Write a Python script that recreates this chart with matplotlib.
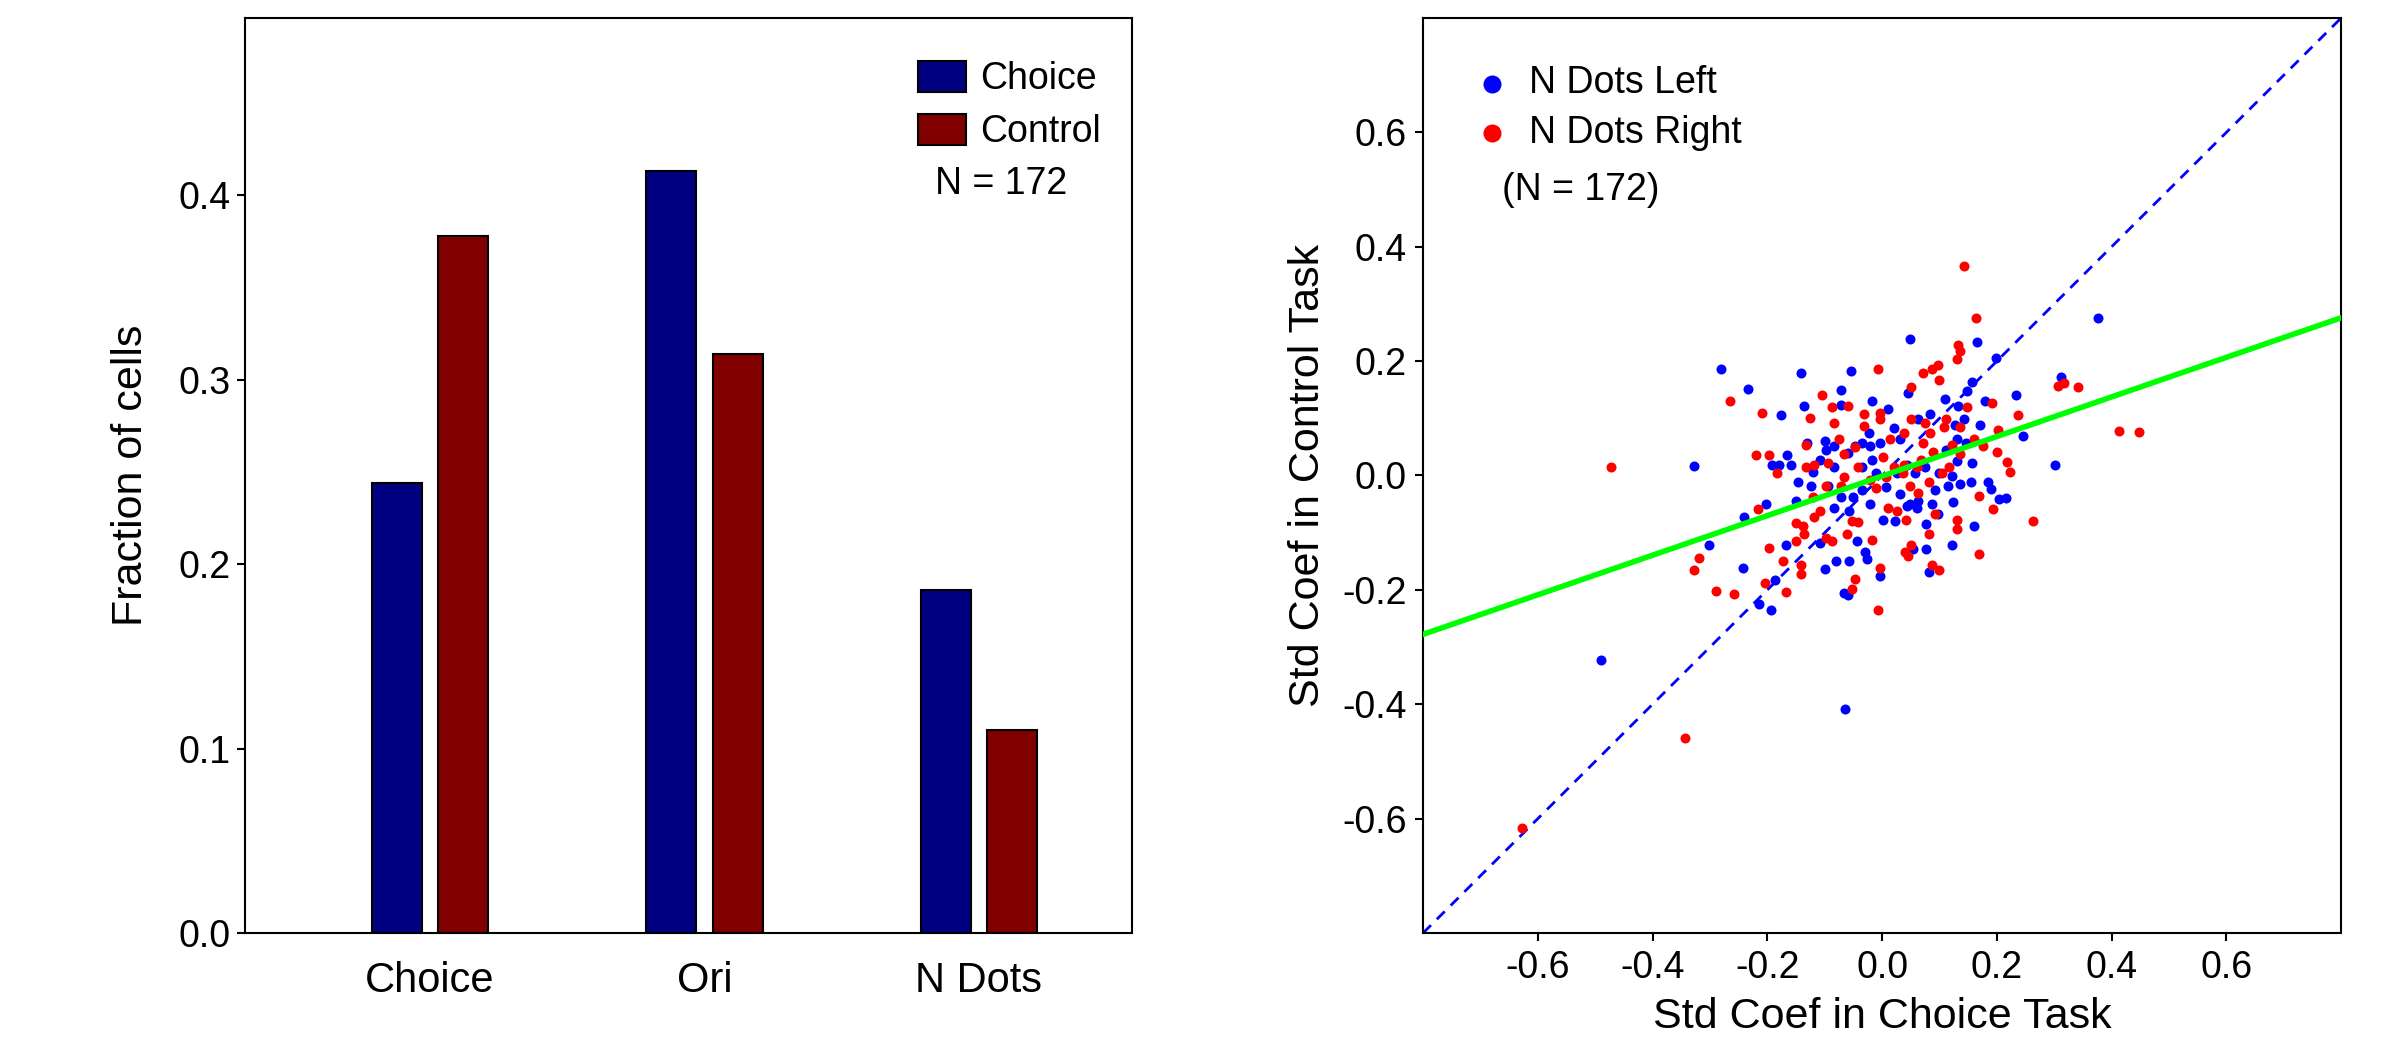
import numpy as np
import matplotlib.pyplot as plt

plt.rcParams['font.family'] = ['Liberation Sans', 'DejaVu Sans']

# Bar chart data
categories = ['Choice', 'Ori', 'N Dots']
frac_choice = [0.244, 0.413, 0.186]
frac_control = [0.378, 0.314, 0.110]
n_cells = 172

# Scatter data (std coef in choice task, std coef in control task)
left_x = [0.377, -0.490, -0.064, -0.327, -0.280, -0.234, -0.141, -0.055, 0.048, 0.166,
          0.199, 0.234, 0.245, 0.301, 0.311, -0.176, -0.136, -0.072, -0.072, -0.018,
          0.011, 0.045, 0.062, 0.083, 0.109, 0.133, 0.148, 0.157, 0.179, 0.171,
          0.142, 0.127, -0.241, -0.202, -0.302, -0.243, -0.187, -0.214, -0.194, -0.168,
          -0.150, -0.146, -0.192, -0.180, -0.166, -0.158, -0.131, -0.121, -0.099, -0.097,
          -0.084, -0.084, -0.109, -0.099, -0.081, -0.057, -0.067, -0.060, -0.044, -0.029,
          -0.026, -0.004, 0.001, 0.022, 0.044, 0.060, 0.077, 0.077, 0.053, 0.082,
          0.121, 0.124, 0.160, 0.154, 0.136, 0.121, 0.114, 0.093, 0.099, 0.130,
          0.157, 0.185, 0.190, 0.203, 0.215, -0.084, -0.060, -0.048, -0.035, -0.021,
          -0.004, -0.035, -0.017, -0.011, 0.007, 0.026, 0.032, 0.020, -0.023, -0.035,
          -0.050, -0.021, -0.057, -0.072, 0.032, 0.048, 0.062, 0.087, 0.097, 0.111,
          0.130, 0.146, 0.075, 0.057, 0.044, -0.108, -0.124, -0.094]
left_y = [0.276, -0.323, -0.408, 0.017, 0.187, 0.151, 0.179, 0.183, 0.239, 0.233,
          0.205, 0.141, 0.069, 0.019, 0.173, 0.105, 0.122, 0.149, 0.124, 0.130,
          0.117, 0.144, 0.098, 0.107, 0.134, 0.122, 0.148, 0.163, 0.131, 0.089,
          0.098, 0.089, -0.073, -0.050, -0.121, -0.162, -0.182, -0.224, -0.236, -0.121,
          -0.045, -0.011, 0.018, 0.018, 0.036, 0.018, 0.057, 0.006, 0.060, 0.045,
          0.051, -0.056, -0.118, -0.164, -0.150, -0.150, -0.205, -0.209, -0.115, -0.133,
          -0.146, -0.176, -0.077, -0.079, -0.053, -0.056, -0.085, -0.129, -0.129, -0.169,
          -0.121, -0.046, -0.089, -0.012, -0.015, -0.001, -0.018, -0.026, 0.004, 0.025,
          0.022, -0.012, -0.024, -0.041, -0.039, 0.015, 0.039, 0.051, 0.057, 0.051,
          0.057, 0.015, 0.027, 0.004, -0.020, 0.004, 0.063, 0.083, 0.075, -0.026,
          -0.038, -0.050, -0.062, -0.038, -0.032, -0.050, -0.044, -0.050, -0.067, 0.045,
          0.063, 0.057, 0.015, 0.004, 0.018, 0.027, -0.018, -0.018]

right_x = [0.142, 0.164, 0.133, 0.136, 0.130, 0.097, 0.087, 0.072, 0.099, 0.050,
           -0.007, 0.307, 0.317, 0.341, 0.413, 0.448, 0.263, -0.473, -0.344, -0.628,
           -0.265, -0.209, -0.219, -0.197, -0.183, -0.217, -0.197, -0.172, -0.204, -0.168,
           -0.259, -0.289, -0.327, -0.319, -0.150, -0.141, -0.141, -0.136, -0.150, -0.138,
           -0.119, -0.108, -0.097, -0.088, -0.062, -0.053, -0.042, -0.017, -0.004, -0.048,
           -0.053, -0.007, 0.011, 0.026, 0.042, 0.040, 0.045, 0.050, 0.081, 0.087,
           0.099, 0.093, 0.130, 0.130, 0.168, 0.194, 0.168, 0.222, 0.217, 0.200,
           0.202, 0.236, 0.192, 0.175, 0.148, 0.136, 0.111, 0.108, 0.084, 0.072,
           0.089, 0.068, 0.060, 0.048, 0.036, 0.038, 0.020, 0.001, 0.013, -0.004,
           -0.004, -0.032, -0.032, -0.060, -0.088, -0.104, -0.084, -0.126, -0.133, -0.133,
           -0.119, -0.094, -0.075, -0.066, -0.048, -0.042, -0.021, -0.011, 0.007, -0.097,
           -0.072, -0.121, -0.066, 0.062, 0.081, 0.105, 0.117, 0.136, 0.160, 0.122,
           0.038, 0.050, 0.075]
right_y = [0.367, 0.275, 0.228, 0.217, 0.204, 0.193, 0.186, 0.179, 0.167, 0.155,
           0.187, 0.157, 0.161, 0.154, 0.078, 0.076, -0.079, 0.015, -0.459, -0.617,
           0.130, 0.110, 0.036, 0.036, 0.004, -0.058, -0.127, -0.150, -0.188, -0.204,
           -0.207, -0.202, -0.166, -0.144, -0.115, -0.156, -0.172, -0.103, -0.083, -0.089,
           -0.073, -0.062, -0.109, -0.115, -0.103, -0.079, -0.082, -0.112, -0.162, -0.181,
           -0.198, -0.236, -0.056, -0.062, -0.077, -0.133, -0.141, -0.121, -0.103, -0.156,
           -0.166, -0.067, -0.077, -0.093, -0.138, -0.058, -0.036, 0.006, 0.024, 0.041,
           0.080, 0.105, 0.127, 0.051, 0.120, 0.084, 0.098, 0.084, 0.075, 0.057,
           0.041, 0.027, 0.015, -0.018, 0.004, 0.018, 0.015, 0.033, 0.063, 0.098,
           0.110, 0.086, 0.107, 0.122, 0.120, 0.140, 0.092, 0.101, 0.053, 0.015,
           0.018, 0.021, 0.063, 0.037, 0.049, 0.015, -0.008, -0.022, -0.002, -0.018,
           -0.018, -0.038, -0.002, -0.030, -0.011, 0.004, 0.015, 0.037, 0.063, 0.053,
           0.075, 0.098, 0.092]

# Fitted regression line (slope, intercept)
fit_slope = 0.346
fit_intercept = -0.001

fig = plt.figure(figsize=(23.99, 10.63), dpi=100)

# ---- Left panel: bar chart ----
ax1 = fig.add_axes([0.1021, 0.1223, 0.3697, 0.8608])
pos = np.arange(1, len(categories) + 1)
w = 0.181
ax1.bar(pos - 0.121, frac_choice, w, color='#000080', edgecolor='black', linewidth=1.5, label='Choice')
ax1.bar(pos + 0.121, frac_control, w, color='#800000', edgecolor='black', linewidth=1.5, label='Control')
ax1.set_xlim(0.326, 3.557)
ax1.set_ylim(0, 0.496)
ax1.set_yticks([0.0, 0.1, 0.2, 0.3, 0.4])
ax1.set_yticklabels(['0.0', '0.1', '0.2', '0.3', '0.4'])
ax1.set_xticks(pos)
ax1.set_xticklabels(categories)
ax1.tick_params(axis='x', length=0, pad=20, labelsize=30)
ax1.tick_params(axis='y', direction='out', length=6, width=1.5, labelsize=27, pad=4)
ax1.set_ylabel('Fraction of cells', fontsize=31, labelpad=20)
ax1.legend(loc='upper left', bbox_to_anchor=(0.721, 0.99), frameon=False, fontsize=27,
           handlelength=1.28, handleheight=0.88, handletextpad=0.37, labelspacing=0.45)
ax1.text(0.778, 0.819, 'N = %d' % n_cells, transform=ax1.transAxes, fontsize=27, va='center')
for s in ax1.spines.values():
    s.set_linewidth(1.5)

# ---- Right panel: scatter ----
ax2 = fig.add_axes([0.5932, 0.1223, 0.3827, 0.8608])
ax2.plot([-0.8, 0.8], [-0.8, 0.8], color='#0000ff', linestyle='--', linewidth=2, dashes=(4, 3))
ax2.scatter(left_x, left_y, s=52, color='#0000ff', linewidths=0, zorder=3, label='N Dots Left')
ax2.scatter(right_x, right_y, s=52, color='#ff0000', linewidths=0, zorder=3, label='N Dots Right')
fx = np.array([-0.8, 0.8])
ax2.plot(fx, fit_slope * fx + fit_intercept, color='#00ff00', linewidth=4, zorder=4)
ax2.set_xlim(-0.8, 0.8)
ax2.set_ylim(-0.8, 0.8)
ticks = [-0.6, -0.4, -0.2, 0.0, 0.2, 0.4, 0.6]
ax2.set_xticks(ticks)
ax2.set_yticks(ticks)
ax2.set_xticklabels(['%.1f' % t for t in ticks])
ax2.set_yticklabels(['%.1f' % t for t in ticks])
ax2.tick_params(direction='out', length=6, width=1.5, labelsize=27, pad=6)
ax2.set_xlabel('Std Coef in Choice Task', fontsize=31, labelpad=8)
ax2.set_ylabel('Std Coef in Control Task', fontsize=31, labelpad=10)
ax2.legend(loc='upper left', bbox_to_anchor=(0.028, 0.985), frameon=False, fontsize=27,
           handlelength=0.5, handletextpad=0.73, labelspacing=0.35, markerscale=1.8)
ax2.text(0.086, 0.812, '(N = %d)' % n_cells, transform=ax2.transAxes, fontsize=27, va='center')
for s in ax2.spines.values():
    s.set_linewidth(1.5)

fig.savefig('out.png', dpi=100)
